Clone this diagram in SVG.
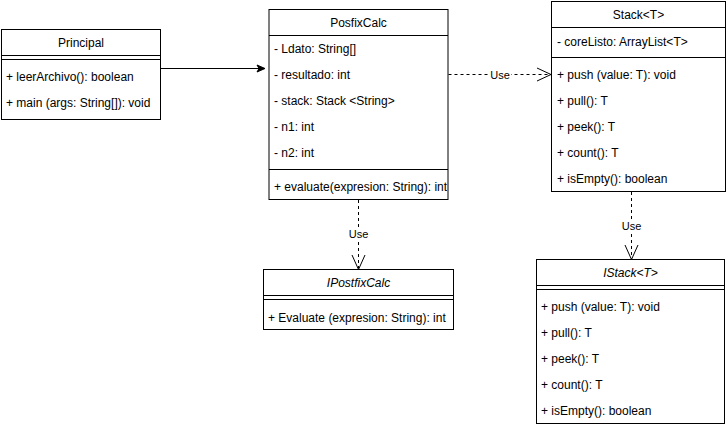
<svg xmlns="http://www.w3.org/2000/svg" width="728" height="428" viewBox="0 0 728 428">
<style>
.box{fill:#fff;stroke:#000;stroke-width:1}
.ln{stroke:#000;stroke-width:1;fill:none}
.t{font-family:"Liberation Sans",Arial,sans-serif;font-size:12px;fill:#000}
.h{text-anchor:middle}
.i{font-style:italic}
.lbl{font-family:"Liberation Sans",Arial,sans-serif;font-size:11px;fill:#000;text-anchor:middle}
.dash{stroke:#000;stroke-width:1;fill:none;stroke-dasharray:3 3}
</style>
<defs>
<clipPath id="clipPos"><rect x="269" y="9" width="178.5" height="191"/></clipPath>
</defs>
<rect width="728" height="428" fill="#fff"/>

<g id="connectors">
  <line class="ln" x1="160.5" y1="68.5" x2="259" y2="68.5"/>
  <path d="M257 65 L265 68.5 L257 72 L259 68.5 Z" fill="#000" stroke="#000" stroke-width="1"/>

  <line class="dash" x1="448.5" y1="74.5" x2="550" y2="74.5"/>
  <path class="ln" d="M537 68 L551 74.5 L537 81"/>
  <rect x="489" y="68" width="22" height="13" fill="#fff"/>
  <text class="lbl" x="500" y="78.5">Use</text>

  <line class="dash" x1="358.5" y1="200" x2="358.5" y2="268.5"/>
  <path class="ln" d="M352 255 L358.5 269.5 L365 255"/>
  <rect x="347" y="227" width="23" height="13" fill="#fff"/>
  <text class="lbl" x="358.5" y="237.5">Use</text>

  <line class="dash" x1="631.5" y1="192" x2="631.5" y2="258.5"/>
  <path class="ln" d="M625 245 L631.5 259.5 L638 245"/>
  <rect x="620" y="219" width="23" height="13" fill="#fff"/>
  <text class="lbl" x="631.5" y="229.5">Use</text>
</g>

<g id="Principal">
  <rect class="box" x="1.5" y="29.5" width="159" height="90"/>
  <line class="ln" x1="1.5" y1="55.5" x2="160.5" y2="55.5"/>
  <line class="ln" x1="1.5" y1="59.5" x2="160.5" y2="59.5"/>
  <text class="t h" x="81" y="47">Principal</text>
  <text class="t" x="6" y="81">+ leerArchivo(): boolean</text>
  <text class="t" x="6" y="107">+ main (args: String[]): void</text>
</g>

<g id="PosfixCalc">
  <rect class="box" x="269" y="9.5" width="179" height="190"/>
  <line class="ln" x1="269" y1="35.5" x2="448" y2="35.5"/>
  <line class="ln" x1="269" y1="169.5" x2="448" y2="169.5"/>
  <text class="t h" x="358.5" y="27">PosfixCalc</text>
  <text class="t" x="274" y="53">- Ldato: String[]</text>
  <text class="t" x="274" y="79">- resultado: int</text>
  <text class="t" x="274" y="105">- stack: Stack &lt;String&gt;</text>
  <text class="t" x="274" y="131">- n1: int</text>
  <text class="t" x="274" y="157">- n2: int</text>
  <text class="t" x="274" y="191" clip-path="url(#clipPos)">+ evaluate(expresion: String): int</text>
</g>

<g id="Stack">
  <rect class="box" x="551.5" y="1.5" width="174" height="190"/>
  <line class="ln" x1="551.5" y1="27.5" x2="725.5" y2="27.5"/>
  <line class="ln" x1="551.5" y1="57.5" x2="725.5" y2="57.5"/>
  <text class="t h" x="638.5" y="19">Stack&lt;T&gt;</text>
  <text class="t" x="557" y="46">- coreListo: ArrayList&lt;T&gt;</text>
  <text class="t" x="557" y="79">+ push (value: T): void</text>
  <text class="t" x="557" y="105">+ pull(): T</text>
  <text class="t" x="557" y="131">+ peek(): T</text>
  <text class="t" x="557" y="157">+ count(): T</text>
  <text class="t" x="557" y="183">+ isEmpty(): boolean</text>
</g>

<g id="IPostfixCalc">
  <rect class="box" x="263.5" y="269.5" width="190" height="60"/>
  <line class="ln" x1="263.5" y1="295.5" x2="453.5" y2="295.5"/>
  <line class="ln" x1="263.5" y1="299.5" x2="453.5" y2="299.5"/>
  <text class="t h i" x="358.5" y="287">IPostfixCalc</text>
  <text class="t" x="268" y="321.5">+ Evaluate (expresion: String): int</text>
</g>

<g id="IStack">
  <rect class="box" x="536.5" y="259.5" width="188" height="164"/>
  <line class="ln" x1="536.5" y1="285.5" x2="724.5" y2="285.5"/>
  <line class="ln" x1="536.5" y1="289.5" x2="724.5" y2="289.5"/>
  <text class="t h i" x="630.5" y="277">IStack&lt;T&gt;</text>
  <text class="t" x="541" y="311">+ push (value: T): void</text>
  <text class="t" x="541" y="337">+ pull(): T</text>
  <text class="t" x="541" y="363">+ peek(): T</text>
  <text class="t" x="541" y="389">+ count(): T</text>
  <text class="t" x="541" y="415">+ isEmpty(): boolean</text>
</g>
</svg>
